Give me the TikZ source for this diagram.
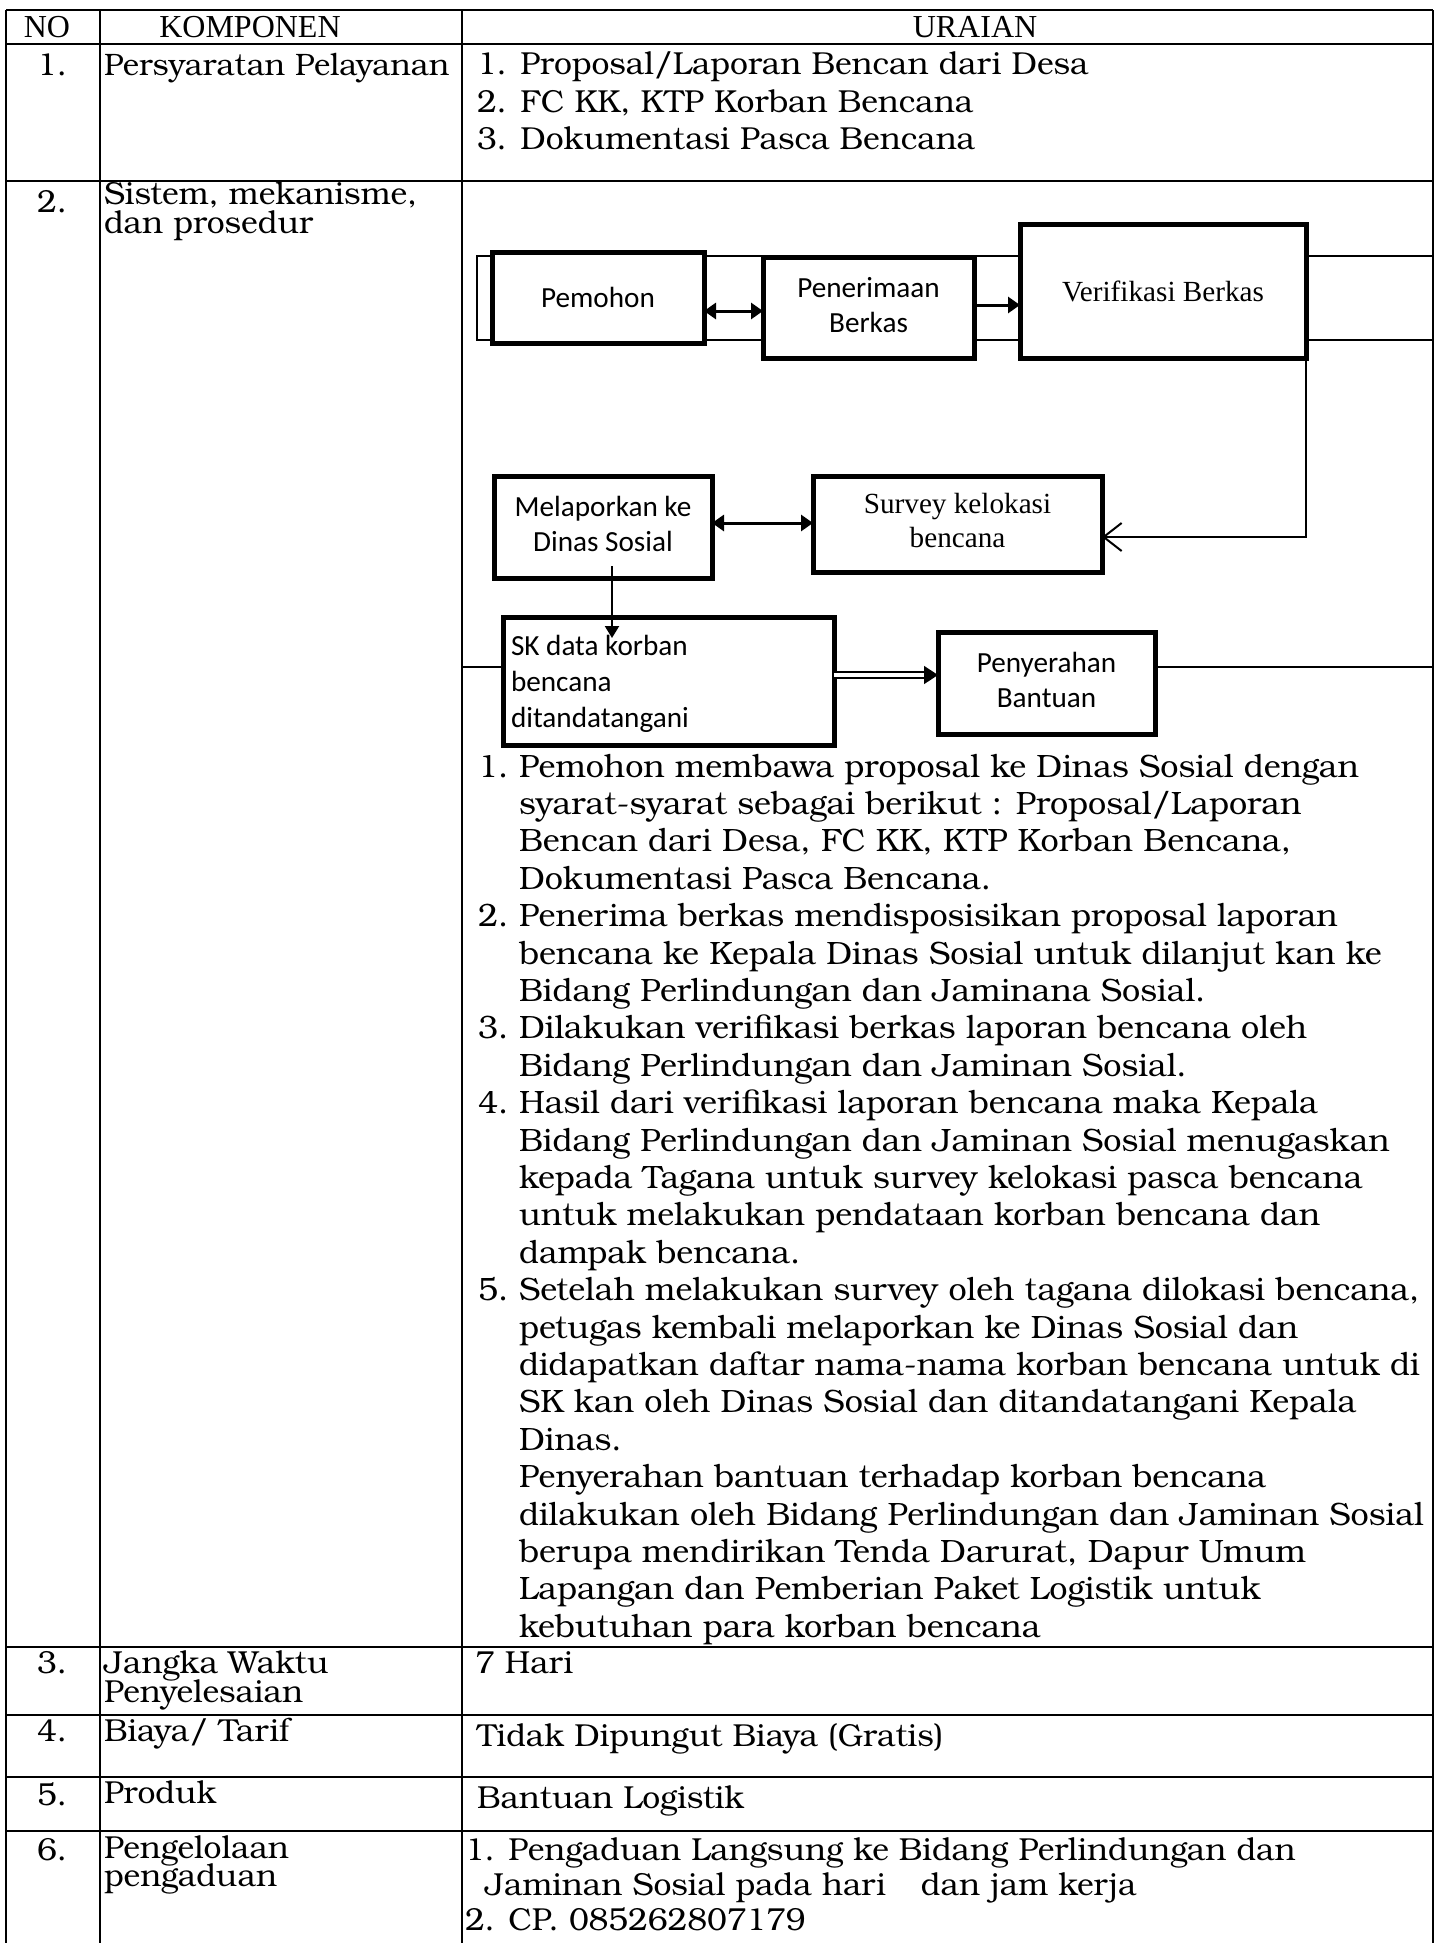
\documentclass[tikz,border=0pt]{standalone}
\usepackage{fontspec}
\setmainfont{texgyrebonum}[Extension=.otf,UprightFont=*-regular,BoldFont=*-bold,ItalicFont=*-italic,BoldItalicFont=*-bolditalic]
\newfontfamily\calibfont{Carlito}
\newfontfamily\timesfont{Liberation Serif}
\usetikzlibrary{arrows.meta}
\newcommand{\bkf}{\fontsize{15.9}{18.7}\selectfont}
\newcommand{\bkl}{\fontsize{16.15}{18.7}\selectfont}
\newcommand{\bkp}{\fontsize{15.5}{18.7}\selectfont}
\newcommand{\bkfs}{\fontsize{15.9}{17.5}\selectfont}
\newcommand{\hdf}{\timesfont\fontsize{16}{18}\selectfont}
\newcommand{\cbf}{\calibfont\fontsize{14.6}{17.5}\selectfont}
\newcommand{\cbfs}{\calibfont\fontsize{14.6}{18}\selectfont}
\newcommand{\tnf}{\timesfont\fontsize{14.6}{17}\selectfont}
\begin{document}
\begin{tikzpicture}[x=0.5pt,y=-0.5pt,
  tline/.style={line width=1.25pt},
  band/.style={line width=1pt},
  bx/.style={draw, line width=2.5pt, fill=white, inner sep=2pt, outer sep=0pt, align=center},
  tb/.style={inner sep=0pt, outer sep=0pt, anchor=base west, font=\bkf},
  tbc/.style={inner sep=0pt, outer sep=0pt, anchor=base, font=\bkf},
  hd/.style={inner sep=0pt, outer sep=0pt, anchor=base, font=\hdf},
  blk/.style={inner sep=0pt, outer sep=0pt, anchor=north west, align=left, font=\bkf},
  dbl/.style={line width=1.5pt, {Triangle[length=6pt,width=8pt]}-{Triangle[length=6pt,width=8pt]}},
  sgl/.style={line width=1.5pt, -{Triangle[length=6pt,width=8pt]}},
]
\useasboundingbox (0,0) rectangle (1440,1943);
\clip (0,0) rectangle (1440,1943);
\fill[white] (0,0) rectangle (1440,1943);

% table grid
\draw[tline] (6,10) -- (1433,10);
\foreach \yy in {44,181,1647,1715,1777,1831} \draw[tline] (6,\yy) -- (1433,\yy);
\foreach \xx in {6,100,462,1433} \draw[tline] (\xx,10) -- (\xx,1960);

% background band of the flow chart
\draw[band] (1433,256) -- (477,256) -- (477,340) -- (1433,340);

% coordinates
\coordinate (r1) at (0,311);
\coordinate (r2) at (0,305);
\coordinate (vc) at (1306,537);
\coordinate (r4) at (0,523);
\coordinate (mst) at (612,566);
\coordinate (skin) at (612,638);
\coordinate (r6) at (0,675);
\coordinate (r7) at (0,667);
\coordinate (cl) at (462,667);
\coordinate (cr) at (1433,667);

% boxes
\node[bx, font=\cbf, minimum width=106pt, minimum height=45.5pt] (pem) at (598,297.5) {Pemohon};
\node[bx, font=\cbf, minimum width=105.5pt, minimum height=50.5pt] (pen) at (868.5,307.5) {\strut Penerimaan\\\strut Berkas};
\node[bx, font=\tnf, minimum width=143pt, minimum height=67pt] (ver) at (1163,291) {Verifikasi Berkas};
\node[bx, font=\cbf, minimum width=109pt, minimum height=51pt] (mel) at (603,527) {\strut Melaporkan ke\\\strut Dinas Sosial};
\node[bx, font=\tnf, minimum width=144.5pt, minimum height=48pt] (sur) at (957.5,524) {\strut Survey kelokasi\\\strut bencana};
\node[bx, minimum width=165.5pt, minimum height=64pt] (sk) at (668.5,681) {};
\node[inner sep=0pt, outer sep=0pt, anchor=north west, align=left, font=\cbfs] (sktxt) at (511,630) {\strut SK data korban\\\strut bencana\\\strut ditandatangani};
\node[bx, font=\cbf, minimum width=108.5pt, minimum height=51pt] (pny) at (1046.5,683) {\strut Penyerahan\\\strut Bantuan};

\draw[band] (cl) -- (sk.west |- r7);
\draw[band] (pny.east |- r7) -- (cr);

% connectors
\draw[dbl] (pem.east |- r1) -- (pen.west |- r1);
\draw[sgl] (pen.east |- r2) -- (ver.west |- r2);
\draw[line width=1pt, -{Straight Barb[length=9pt,width=14pt]}] (ver.south east) -- (vc) -- (vc -| sur.east);
\draw[dbl] (mel.east |- r4) -- (sur.west |- r4);
\draw[line width=1.1pt, -{Triangle[length=6pt,width=7pt]}] (mst) -- (skin);
\draw[line width=0.8pt, double, double distance=2pt, -{Triangle[length=7pt,width=9pt]}] (sk.east |- r6) -- (pny.west |- r6);

% header
\node[hd] (hno) at (47,38) {NO};
\node[hd] (hkomp) at (250,38) {KOMPONEN};
\node[hd] (hur) at (975,38) {URAIAN};

% column 1
\node[tbc] (n1) at (52,75) {1.};
\node[tbc] (n2) at (52,212) {2.};
\node[tbc] (n3) at (52,1673) {3.};
\node[tbc] (n4) at (52,1741) {4.};
\node[tbc] (n5) at (52,1805) {5.};
\node[tbc] (n6) at (52,1860) {6.};

% column 2
\node[tb, font=\bkp] (k1) at (104,75) {Persyaratan Pelayanan};
\node[tb] (k2a) at (104,204) {Sistem, mekanisme,};
\node[tb] (k2b) at (104,233) {dan prosedur};
\node[tb] (k3a) at (104,1673) {Jangka Waktu};
\node[tb] (k3b) at (104,1702) {Penyelesaian};
\node[tb] (k4) at (104,1741) {Biaya/ Tarif};
\node[tb] (k5) at (104,1803) {Produk};
\node[tb] (k6a) at (104,1858) {Pengelolaan};
\node[tb] (k6b) at (104,1886) {pengaduan};

% column 3
\node[blk] (u1) at (477,48.8) {\strut 1. Proposal/Laporan Bencan dari Desa\\\strut 2. FC KK, KTP Korban Bencana\\\strut 3. Dokumentasi Pasca Bencana};

\node[tb, font=\bkl] (l1) at (478,777) {1.};
\node[tb, font=\bkl] (l2) at (478,926.6) {2.};
\node[tb, font=\bkl] (l3) at (478,1038.8) {3.};
\node[tb, font=\bkl] (l4) at (478,1113.6) {4.};
\node[tb, font=\bkl] (l5) at (478,1300.6) {5.};
\node[blk, font=\bkl] (list) at (519,750.8) {\strut Pemohon membawa proposal ke Dinas Sosial dengan\\
\strut syarat-syarat sebagai berikut : Proposal/Laporan\\
\strut Bencan dari Desa, FC KK, KTP Korban Bencana,\\
\strut Dokumentasi Pasca Bencana.\\
\strut Penerima berkas mendisposisikan proposal laporan\\
\strut bencana ke Kepala Dinas Sosial untuk dilanjut kan ke\\
\strut Bidang Perlindungan dan Jaminana Sosial.\\
\strut Dilakukan verifikasi berkas laporan bencana oleh\\
\strut Bidang Perlindungan dan Jaminan Sosial.\\
\strut Hasil dari verifikasi laporan bencana maka Kepala\\
\strut Bidang Perlindungan dan Jaminan Sosial menugaskan\\
\strut kepada Tagana untuk survey kelokasi pasca bencana\\
\strut untuk melakukan pendataan korban bencana dan\\
\strut dampak bencana.\\
\strut Setelah melakukan survey oleh tagana dilokasi bencana,\\
\strut petugas kembali melaporkan ke Dinas Sosial dan\\
\strut didapatkan daftar nama-nama korban bencana untuk di\\
\strut SK kan oleh Dinas Sosial dan ditandatangani Kepala\\
\strut Dinas.\\
\strut Penyerahan bantuan terhadap korban bencana\\
\strut dilakukan oleh Bidang Perlindungan dan Jaminan Sosial\\
\strut berupa mendirikan Tenda Darurat, Dapur Umum\\
\strut Lapangan dan Pemberian Paket Logistik untuk\\
\strut kebutuhan para korban bencana};

\node[tb] (u3) at (475,1673) {7 Hari};
\node[tb] (u4) at (477,1746) {Tidak Dipungut Biaya (Gratis)};
\node[tb] (u5) at (477,1808) {Bantuan Logistik};
\node[blk, font=\bkfs] (u6) at (465,1835.5) {\strut 1. Pengaduan Langsung ke Bidang Perlindungan dan\\
\strut\hspace*{10pt}Jaminan Sosial pada hari\hspace{1.1em}dan jam kerja\\
\strut 2. CP. 085262807179};
\end{tikzpicture}
\end{document}
